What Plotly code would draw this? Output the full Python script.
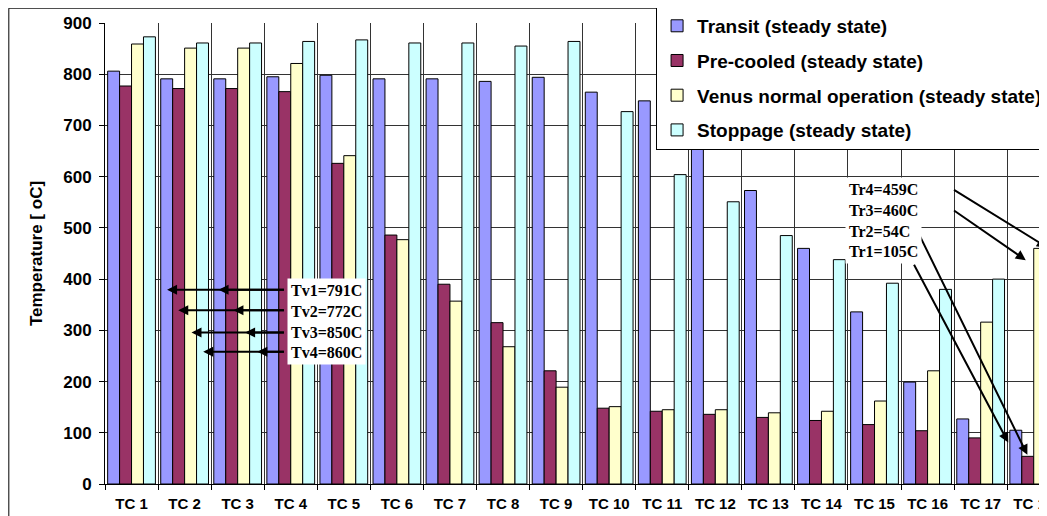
import plotly.graph_objects as go

categories = ['TC %d' % i for i in range(1, 19)]

transit = [806, 791, 791, 795, 798, 791, 791, 786, 794, 765, 748, 700, 573, 460, 336, 199, 127, 105]
precooled = [777, 772, 772, 766, 626, 486, 390, 315, 221, 148, 142, 136, 130, 124, 116, 104, 90, 54]
venus = [859, 851, 851, 821, 641, 477, 357, 268, 189, 151, 145, 145, 139, 142, 162, 221, 316, 460]
stoppage = [873, 861, 861, 864, 867, 861, 861, 855, 864, 727, 604, 551, 485, 438, 392, 380, 400, 459]

series_names = ['Transit (steady state)', 'Pre-cooled (steady state)',
                'Venus normal operation (steady state)', 'Stoppage (steady state)']
series_values = [transit, precooled, venus, stoppage]
series_colors = ['#9999FF', '#993366', '#FFFFCC', '#CCFFFF']

left_labels = ['Tv1=791C', 'Tv2=772C', 'Tv3=850C', 'Tv4=860C']
right_labels = ['Tr4=459C', 'Tr3=460C', 'Tr2=54C', 'Tr1=105C']

SANS = 'Liberation Sans, Arial, sans-serif'
SERIF = 'Liberation Serif, Times New Roman, serif'

fig = go.Figure()
for i, (name, vals, col) in enumerate(zip(series_names, series_values, series_colors)):
    fig.add_trace(go.Bar(x=categories, y=vals, name=name, legendgroup=str(i),
                         marker=dict(color=col, line=dict(color='black', width=1))))

# annotation arrows: (tail x, tail y, head x, head y) in axis units
left_arrows = [
    (2.90, 379, 0.67, 379), (2.90, 379, 1.64, 379),
    (2.90, 339, 0.88, 339), (2.90, 339, 1.92, 339),
    (2.90, 296, 1.13, 296), (2.90, 296, 2.14, 296),
    (2.90, 258, 1.35, 258), (2.90, 258, 2.37, 258),
]
right_arrows = [
    (15.47, 576, 17.25, 462),
    (15.47, 536, 16.85, 437),
    (14.77, 502, 16.88, 57),
    (14.73, 431, 16.52, 81),
]

annotations = []
for ax_, ay_, x_, y_ in left_arrows + right_arrows:
    annotations.append(dict(x=x_, y=y_, ax=ax_, ay=ay_, xref='x', yref='y',
                            axref='x', ayref='y', text='', showarrow=True,
                            arrowhead=2, arrowsize=1, arrowwidth=2, arrowcolor='black'))

annotations.append(dict(x=3.68, y=318, xref='x', yref='y', showarrow=False,
                        text='<br>'.join(left_labels), align='left',
                        font=dict(family=SERIF, size=16, color='black', weight='bold'),
                        bgcolor='white', borderpad=3))
annotations.append(dict(x=14.16, y=515, xref='x', yref='y', showarrow=False,
                        text='<br>'.join(right_labels), align='left',
                        font=dict(family=SERIF, size=16, color='black', weight='bold'),
                        bgcolor='white', borderpad=3))

# page body adds an 8px offset, so the figure is 8px smaller than the window
fig.update_layout(
    width=1039, height=508,
    margin=dict(l=97, r=0, t=15, b=32, autoexpand=False),
    paper_bgcolor='white', plot_bgcolor='white',
    font=dict(family=SANS, color='black'),
    barmode='group', bargap=0.1, bargroupgap=0,
    showlegend=True,
    legend=dict(x=0.585, y=1.037, xanchor='left', yanchor='top',
                bgcolor='white', bordercolor='black', borderwidth=1,
                font=dict(family=SANS, size=19, color='black', weight='bold'),
                traceorder='grouped', tracegroupgap=7),
    annotations=annotations,
    shapes=[dict(type='rect', xref='paper', yref='paper',
                 x0=-0.1021, x1=1.05, y0=-0.1, y1=1.0321,
                 line=dict(color='black', width=1), fillcolor='rgba(0,0,0,0)', layer='below')],
)

fig.update_xaxes(range=[-0.5, 17.25], tickson='boundaries', ticks='outside', ticklen=5,
                 tickcolor='black', showgrid=True, gridcolor='#333333', gridwidth=1,
                 showline=True, linecolor='black', linewidth=1, ticklabelstandoff=6,
                 tickfont=dict(family=SANS, size=15, color='black', weight='bold'))
fig.update_yaxes(range=[0, 900], dtick=100, ticks='outside', ticklen=5, tickcolor='black',
                 showgrid=True, gridcolor='#333333', gridwidth=1,
                 showline=True, linecolor='black', linewidth=1, zeroline=False,
                 tickfont=dict(family=SANS, size=17, color='black', weight='bold'),
                 ticklabelstandoff=4,
                 title=dict(text='Temperature [ oC]', standoff=16,
                            font=dict(family=SANS, size=17, color='black', weight='bold')))

fig.write_html('out.html')
